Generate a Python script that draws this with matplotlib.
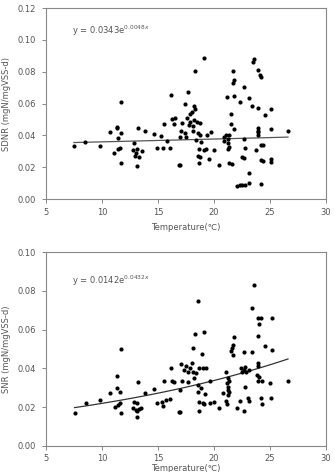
import numpy as np
import matplotlib
matplotlib.use("Agg")
import matplotlib.pyplot as plt

# ---------------- Data: top panel (SDNR) ----------------
temp_sdnr = [7.5, 8.5, 9.8, 10.72, 11.1, 11.32, 11.35, 11.46, 11.46, 11.61, 11.67, 11.67, 11.70,
             12.88, 12.79, 13.09, 13.54, 13.0, 12.94, 13.3, 13.12, 13.24, 13.83, 14.66, 14.95,
             15.31, 15.45, 15.54, 15.85, 16.1, 16.2, 16.25, 16.55, 16.43, 16.87,
             19.15, 18.32, 23.59, 23.47, 21.67, 23.94, 24.12, 24.24, 21.76, 21.67, 22.64, 17.67,
             21.13, 21.76, 23.15, 22.35, 17.38, 18.18, 18.32, 18.03, 17.82, 23.44, 23.94, 25.13,
             24.54, 21.52, 17.14, 17.61, 17.82, 18.26, 18.50, 18.80, 18.12, 17.73, 21.52, 21.81,
             23.94, 23.94, 23.94, 23.94, 25.13, 26.61, 17.08, 17.44, 18.12, 18.56, 18.80, 19.39,
             19.74, 16.93, 17.53, 21.07, 21.37, 21.22, 20.93, 21.22, 21.37, 21.22, 22.70, 24.18,
             24.36, 18.86, 18.71, 19.09, 19.30, 18.56, 18.80, 19.60, 19.98, 18.71, 16.93, 20.48,
             22.76, 23.74, 22.55, 22.70, 24.24, 24.42, 25.13, 25.13, 21.37, 21.58, 23.15, 22.05,
             22.29, 22.52, 22.76, 23.15, 24.24, 20.87, 18.41]
sdnr = [0.0334, 0.0357, 0.0334, 0.0420, 0.0289, 0.0452, 0.0445, 0.0387, 0.0318, 0.0320, 0.0418, 0.0226, 0.0612,
        0.0351, 0.0309, 0.0316, 0.0302, 0.0289, 0.0272, 0.0263, 0.0209, 0.0447, 0.0428, 0.0412, 0.0322,
        0.0395, 0.0322, 0.0472, 0.0368, 0.0324, 0.0654, 0.0504, 0.0508, 0.0472, 0.0215,
        0.0885, 0.0807, 0.0878, 0.0862, 0.0807, 0.0812, 0.0780, 0.0766, 0.0749, 0.0732, 0.0703, 0.0672,
        0.0640, 0.0649, 0.0634, 0.0609, 0.0596, 0.0582, 0.0565, 0.0546, 0.0536, 0.0582, 0.0571, 0.0567,
        0.0529, 0.0534, 0.0481, 0.0508, 0.0487, 0.0498, 0.0487, 0.0477, 0.0460, 0.0467, 0.0473, 0.0440,
        0.0446, 0.0431, 0.0419, 0.0404, 0.0442, 0.0431, 0.0431, 0.0414, 0.0425, 0.0414, 0.0404, 0.0404,
        0.0419, 0.0389, 0.0389, 0.0404, 0.0404, 0.0377, 0.0368, 0.0352, 0.0327, 0.0314, 0.0377, 0.0341,
        0.0337, 0.0356, 0.0314, 0.0306, 0.0314, 0.0272, 0.0264, 0.0251, 0.0306, 0.0230, 0.0216, 0.0216,
        0.0320, 0.0310, 0.0264, 0.0258, 0.0247, 0.0237, 0.0251, 0.0235, 0.0226, 0.0218, 0.0164, 0.0084,
        0.0086, 0.0090, 0.0090, 0.0101, 0.0095, 0.0389, 0.0373]
sdnr_a, sdnr_b = 0.0343, 0.0048

# ---------------- Data: bottom panel (SNR) ----------------
temp_snr = [11.70, 11.31, 11.31, 11.61, 10.72, 11.61, 11.46, 11.17, 11.67, 13.24, 13.83, 14.66, 15.54,
            16.25, 16.43, 16.2, 12.88, 13.09, 12.79, 13.0, 13.3, 13.53, 13.09, 13.12, 14.95, 15.37,
            15.46, 15.75, 16.05, 7.56, 8.56, 9.81, 16.88,
            23.59, 18.62, 23.44, 23.94, 24.18, 25.16, 24.03, 18.32, 19.15, 21.76, 23.94, 24.54, 25.16,
            18.12, 18.92, 21.67, 21.58, 21.52, 21.67, 22.64, 23.44, 23.89, 23.89,
            17.08, 17.53, 18.03, 17.82, 17.32, 17.67, 18.12, 18.41, 18.71, 19.0, 19.3, 18.26,
            17.14, 17.67, 16.93, 19.68, 21.07, 21.22, 21.37, 21.16, 22.41, 22.70, 22.55, 22.85, 22.76,
            23.15, 23.83, 24.03, 23.89, 24.33, 25.01, 26.61,
            18.62, 18.86, 18.56, 19.21, 18.71, 19.0, 19.15, 19.68, 19.98, 20.48, 18.71, 16.93, 20.78,
            21.22, 21.22, 21.37, 21.22, 21.07, 21.16, 22.76, 22.35, 22.05, 22.64, 23.06, 23.15,
            24.24, 24.33, 25.07]
snr = [0.0500, 0.0360, 0.0297, 0.0279, 0.0271, 0.0219, 0.0210, 0.0202, 0.0167, 0.0331, 0.0271, 0.0293, 0.0334,
       0.0334, 0.0327, 0.0400, 0.0228, 0.0219, 0.0193, 0.0185, 0.0190, 0.0193, 0.0179, 0.0150, 0.0219, 0.0227,
       0.0207, 0.0236, 0.0241, 0.0167, 0.0219, 0.0236, 0.0176,
       0.0831, 0.0748, 0.0714, 0.0662, 0.0662, 0.0659, 0.0628, 0.0576, 0.0586, 0.0564, 0.0567, 0.0516, 0.0495,
       0.0503, 0.0474, 0.0521, 0.0503, 0.0490, 0.0469, 0.0486, 0.0486, 0.0426, 0.0414,
       0.0421, 0.0414, 0.0426, 0.0400, 0.0391, 0.0383, 0.0383, 0.0374, 0.0400, 0.0403, 0.0403, 0.0348,
       0.0334, 0.0327, 0.0288, 0.0334, 0.0383, 0.0352, 0.0334, 0.0323, 0.0400, 0.0391, 0.0379, 0.0383, 0.0408,
       0.0391, 0.0366, 0.0357, 0.0334, 0.0334, 0.0323, 0.0334,
       0.0314, 0.0297, 0.0276, 0.0266, 0.0228, 0.0219, 0.0214, 0.0219, 0.0228, 0.0193, 0.0179, 0.0172, 0.0271,
       0.0305, 0.0288, 0.0279, 0.0262, 0.0231, 0.0214, 0.0305, 0.0231, 0.0193, 0.0179, 0.0248, 0.0231,
       0.0248, 0.0217, 0.0248]
snr_a, snr_b = 0.0142, 0.0432

x_ticks = [5, 10, 15, 20, 25, 30]
sdnr_yticks = [0.00, 0.02, 0.04, 0.06, 0.08, 0.10, 0.12]
snr_yticks = [0.00, 0.02, 0.04, 0.06, 0.08, 0.10]

fig = plt.figure(figsize=(3.35, 4.72), dpi=100)
plt.rcParams['font.family'] = ['DejaVu Sans']

tick_col = '#555555'
frame_col = '#888888'


def style(ax, yticks, ylabel, xpad):
    ax.set_xlim(5, 30)
    ax.set_ylim(yticks[0], yticks[-1])
    ax.set_xticks(x_ticks)
    ax.set_yticks(yticks)
    ax.set_xticklabels([str(t) for t in x_ticks])
    ax.set_yticklabels([f"{t:.2f}" for t in yticks])
    for s in ax.spines.values():
        s.set_color(frame_col)
        s.set_linewidth(0.8)
    ax.tick_params(direction='out', length=3, width=0.7, colors=frame_col,
                   labelcolor=tick_col, labelsize=6, pad=4)
    ax.tick_params(axis='x', pad=3)
    ax.set_ylabel(ylabel, fontsize=6, color=tick_col, labelpad=5)
    ax.set_xlabel("Temperature(\u2103)", fontsize=6, color=tick_col, labelpad=xpad)


# top
ax1 = fig.add_axes([0.137, 0.578, 0.836, 0.405])
ax1.scatter(temp_sdnr, sdnr, s=9, color='black', zorder=3, linewidths=0)
xl = np.linspace(min(temp_sdnr), max(temp_sdnr), 50)
ax1.plot(xl, sdnr_a * np.exp(sdnr_b * xl), color='#555555', lw=0.9, zorder=2)
style(ax1, sdnr_yticks, "SDNR (mgN/mgVSS-d)", 5)
ax1.text(7.3, 0.1035, f"y = {sdnr_a:.4f}e$^{{{sdnr_b:.4f}x}}$", fontsize=6, color=tick_col)

# bottom
ax2 = fig.add_axes([0.137, 0.0557, 0.836, 0.41])
ax2.scatter(temp_snr, snr, s=9, color='black', zorder=3, linewidths=0)
xl2 = np.linspace(min(temp_snr), max(temp_snr), 50)
ax2.plot(xl2, snr_a * np.exp(snr_b * xl2), color='#333333', lw=0.9, zorder=2)
style(ax2, snr_yticks, "SNR (mgN/mgVSS-d)", 0.5)
ax2.text(7.3, 0.0835, f"y = {snr_a:.4f}e$^{{{snr_b:.4f}x}}$", fontsize=6, color=tick_col)

fig.savefig("out.png", dpi=100)
